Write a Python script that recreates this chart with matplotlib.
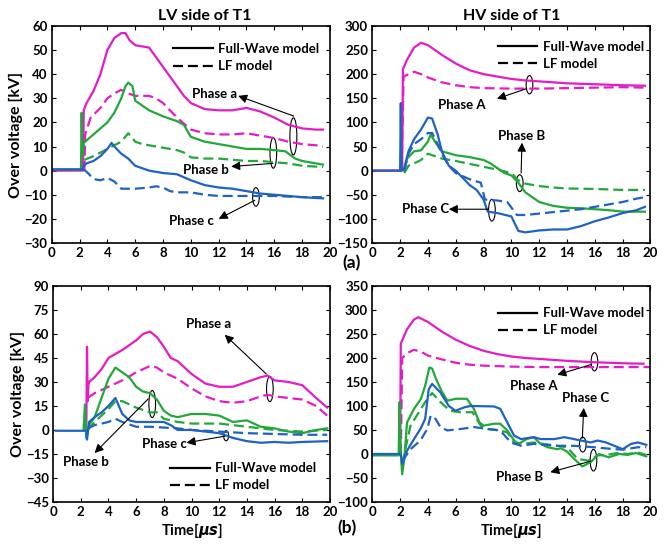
import matplotlib
matplotlib.use('Agg')
import matplotlib.pyplot as plt
from matplotlib.lines import Line2D
from matplotlib.patches import Ellipse

plt.rcParams['font.family'] = ['Lato', 'DejaVu Sans']
plt.rcParams['font.weight'] = 'bold'

MAG = '#e31cc6'
GRN = '#22a83a'
BLU = '#1f62c0'

# ---------- (a) LV side of T1 ----------
lva_t_fw_a = [0, 2.25, 2.3, 2.5, 3, 3.5, 4, 4.5, 5, 5.3, 5.6, 6, 6.5, 7, 7.5, 8, 8.5, 9, 9.5, 10, 11, 12, 13, 14, 15, 16, 17, 18, 19, 19.5]
lva_fw_a = [0, 0, 25, 28, 33, 40, 50, 55, 57, 57, 54, 52, 51.5, 51, 47, 43, 39, 35, 31, 28, 25.5, 25, 25, 26, 24.5, 22, 19, 17.5, 17, 17]
lva_t_lf_a = [2.35, 2.4, 2.8, 3.5, 4, 4.5, 5, 5.5, 6, 7, 7.5, 8, 8.5, 9, 10, 11, 12, 13, 14, 15, 16, 17, 18, 19, 19.5]
lva_lf_a = [0, 15, 22, 26, 30, 32, 33.5, 32, 31, 31, 30, 28, 25, 22, 17, 15.5, 15, 15, 15.5, 14.5, 13.5, 12, 11, 10.5, 10]
lva_t_fw_b = [0, 2.1, 2.15, 2.2, 2.25, 2.3, 3, 4, 4.5, 5, 5.3, 5.5, 5.8, 6, 7, 8, 9, 9.5, 10, 11, 12, 13, 14, 15, 16, 16.8, 17.5, 18, 19, 19.5]
lva_fw_b = [0.5, 0.5, 24, 6, 8, 11.5, 15, 20, 24, 30, 35, 36.5, 35, 29, 25, 22.5, 20.5, 19, 14, 12, 11, 10, 9, 9, 8.5, 8, 5, 4, 3, 2.5]
lva_t_lf_b = [2.35, 3, 4, 5, 5.5, 6, 6.5, 7, 8, 9, 9.5, 10, 11, 12, 13, 14, 15, 16, 17, 18, 19.5]
lva_lf_b = [4.5, 6, 9, 12, 15.5, 12, 11, 10.5, 9.5, 8.5, 7.5, 5.5, 5, 5, 4.5, 4, 4, 3.5, 3, 2, 1.5]
lva_t_fw_c = [0, 2.25, 2.3, 2.5, 3, 3.5, 4, 4.3, 4.5, 5, 5.5, 6, 7, 8, 9, 10, 11, 12, 13, 14, 15, 16, 17, 18, 19.5]
lva_fw_c = [0.5, 0.5, 2, 3, 4, 6, 9, 11.5, 10, 7, 5, 2, 0, -1, -1.5, -4, -6, -7, -7.5, -8.5, -9.5, -10, -10.5, -11, -11.5]
lva_t_lf_c = [2.3, 2.6, 3, 3.5, 4, 4.5, 5, 6, 7, 7.5, 8, 8.5, 9, 10, 11, 12, 14, 16, 18, 19.5]
lva_lf_c = [0.5, -1, -3.5, -4, -3, -4.5, -7.5, -7.5, -7, -6.5, -7, -8.5, -9, -9, -10, -10.5, -10.5, -10.5, -11, -11]

# ---------- (a) HV side of T1 ----------
hva_t_fw_a = [0, 2.15, 2.2, 2.5, 3, 3.5, 4, 5, 6, 7, 8, 9, 10, 11, 12, 14, 16, 18, 19.6]
hva_fw_a = [0, 0, 210, 230, 255, 265, 260, 240, 222, 208, 200, 195, 190, 187, 185, 181, 179, 177, 176]
hva_t_lf_a = [2.1, 2.25, 3, 3.5, 4, 5, 6, 7, 8, 10, 12, 14, 16, 18, 19.6]
hva_lf_a = [0, 195, 205, 200, 193, 183, 177, 173, 171, 170, 170, 171, 172, 173, 172]
hva_t_fw_b = [2.3, 2.5, 3, 3.5, 4, 4.2, 4.5, 5, 6, 7, 8, 8.5, 9, 9.5, 10, 10.5, 11, 12, 13, 14, 15, 16, 17, 18, 19.6]
hva_fw_b = [0, 25, 40, 42, 60, 75, 60, 40, 32, 28, 22, 15, 5, -5, -10, -25, -45, -65, -73, -77, -78, -80, -82, -85, -85]
hva_t_lf_b = [2.3, 2.6, 3, 3.5, 4, 4.5, 5, 6, 7, 8, 9, 10, 10.5, 11, 12, 13, 14, 16, 18, 19.6]
hva_lf_b = [-5, 10, 15, 22, 35, 30, 25, 20, 14, 8, 2, -5, -20, -27, -32, -35, -37, -38, -40, -40]
hva_t_fw_c = [0, 2.0, 2.05, 2.1, 2.3, 2.6, 3, 3.5, 4, 4.3, 4.7, 5, 5.5, 6, 7, 7.5, 8, 8.3, 9, 10, 10.5, 11, 12, 13, 14, 15, 16, 17, 18, 19, 19.6]
hva_fw_c = [0, 0, 140, 0, 5, 40, 65, 85, 110, 108, 75, 40, 10, 0, -30, -40, -60, -85, -88, -95, -125, -128, -124, -122, -122, -115, -105, -97, -88, -82, -75]
hva_t_lf_c = [2.3, 2.6, 3, 3.5, 4, 4.3, 4.7, 5, 5.5, 6, 7, 7.8, 8.1, 9, 9.7, 10.4, 11, 12, 13, 14, 15, 16, 17, 18, 19, 19.6]
hva_lf_c = [0, 35, 55, 65, 78, 78, 55, 35, 10, -5, -18, -25, -60, -62, -65, -92, -92, -89, -86, -83, -80, -75, -70, -65, -58, -55]

# ---------- (b) LV side ----------
lvb_t_fw_a = [2.4, 2.45, 2.5, 2.55, 2.6, 3, 3.5, 4, 5, 6, 6.5, 7, 7.5, 8, 8.5, 9, 10, 11, 12, 13, 14, 15, 15.5, 16, 17, 18, 19, 19.8]
lvb_fw_a = [0, 52, 18, 28, 30, 33, 38, 45, 50, 56, 60, 61.5, 58, 52, 45, 43, 35, 29, 27, 27, 30, 33, 34, 31, 30, 28, 20, 14]
lvb_t_lf_a = [2.5, 3, 4, 5, 6, 7, 7.5, 8, 9, 10, 11, 12, 13, 14, 15, 15.5, 16, 17, 18, 19, 19.8]
lvb_lf_a = [20, 23, 27, 31, 36, 40, 39, 36, 32, 26, 21, 18, 17, 18, 21, 22, 21, 20, 19, 15, 9]
lvb_t_fw_b = [2.2, 2.3, 2.4, 2.6, 3, 3.5, 4, 4.5, 5, 5.5, 6, 6.5, 7, 7.5, 8, 8.5, 9, 10, 11, 12, 13, 14, 15, 16, 17, 18, 19, 19.8]
lvb_fw_b = [0, 16, -5, 3, 8, 20, 32, 39, 36, 33, 27, 24, 23, 19, 12, 9, 8, 10, 10, 9, 5, 6, 2, 1, -1, -2, 0, 1]
lvb_t_lf_b = [2.5, 3, 4, 4.5, 5, 6, 7, 7.5, 8, 9, 10, 12, 13, 14, 16, 18, 19.8]
lvb_lf_b = [0, 5, 13, 18, 18, 14, 11, 11, 7, 5, 4, 4, 3, 2, 0, -1, 0]
lvb_t_fw_c = [0.2, 2.4, 2.45, 2.6, 3, 3.5, 4, 4.5, 5, 5.5, 6, 7, 8, 8.5, 9, 10, 11, 12, 13, 14, 15, 16, 17, 18, 19.8]
lvb_fw_c = [-0.5, -0.5, -6, 5, 8, 11, 15, 20, 10, 6, 5, 5, 5, 3, 0, 0, -1, -2, -5, -7, -8, -7.5, -8, -7.5, -7]
lvb_t_lf_c = [2.5, 3, 4, 4.5, 5, 6, 7, 8, 9, 10, 12, 14, 16, 18, 19.8]
lvb_lf_c = [1, 3, 5, 7, 5, 2, 2, 1.5, 1, 0, -1, -2, -2.5, -3, -3]

# ---------- (b) HV side ----------
hvb_t_fw_a = [2.0, 2.05, 2.5, 3, 3.3, 4, 5, 6, 7, 8, 9, 10, 11, 12, 14, 16, 18, 19.5]
hvb_fw_a = [0, 230, 260, 280, 285, 275, 255, 238, 225, 215, 208, 203, 200, 198, 194, 191, 189, 188]
hvb_t_lf_a = [2.05, 2.15, 2.5, 3, 3.5, 4, 5, 6, 7, 8, 10, 12, 14, 16, 18, 20]
hvb_lf_a = [0, 200, 210, 217, 213, 205, 197, 190, 186, 184, 182, 181, 181, 181, 181, 181]
hvb_t_fw_b = [0, 1.9, 1.95, 2.05, 2.15, 2.3, 2.5, 3, 3.5, 3.8, 4.1, 4.3, 4.6, 5, 5.4, 6, 6.8, 7.3, 7.7, 8, 8.75, 9.2, 9.7, 10.2, 10.5, 11.1, 11.6, 12.1, 12.6, 13.3, 13.55, 14, 14.5, 15.1, 15.7, 16.3, 17, 17.75, 18.35, 18.95, 19.7]
hvb_fw_b = [-3, -3, 108, 0, -42, -10, 66, 94, 115, 142, 180, 178, 155, 130, 111, 115, 115, 94, 66, 59, 63, 63, 49, 28, 21, 31, 35, 21, 14, 10, 12, 5, -10, -26, -17, 0, -7, 0, -2, 2, -5]
hvb_t_lf_b = [2.15, 2.3, 2.75, 3.35, 3.8, 4.3, 4.9, 5.6, 6.35, 7.2, 7.8, 8.3, 9.2, 9.7, 10.2, 10.9, 11.6, 12.3, 13.3, 14, 14.75, 15.5, 16.2, 16.9, 17.6, 18.35, 19.1, 19.7]
hvb_lf_b = [-20, 0, 59, 87, 108, 127, 108, 90, 87, 87, 59, 52, 49, 45, 24, 21, 24, 21, 17, 14, -10, -14, -3, -2, 2, 0, 3, -2]
hvb_t_fw_c = [0, 2.05, 2.15, 2.5, 3, 3.46, 3.8, 4.06, 4.3, 4.9, 5.5, 5.98, 6.6, 7.06, 8.75, 9.2, 9.7, 10.2, 10.7, 11.6, 12.1, 13.1, 13.8, 14.5, 15, 15.7, 16.2, 16.8, 17.4, 18, 18.6, 19.1, 19.7]
hvb_fw_c = [0, 0, -21, 7, 31, 52, 73, 135, 146, 128, 100, 90, 97, 100, 99, 94, 66, 38, 31, 35, 31, 31, 35, 31, 28, 24, 28, 24, 17, 10, 21, 24, 19]
hvb_t_lf_c = [2.15, 2.75, 3.46, 3.95, 4.2, 4.55, 4.9, 5.4, 6.35, 7.3, 8.3, 9.2, 9.95, 10.7, 11.6, 13.1, 14.5, 15.95, 17.4, 18, 19.1, 19.7]
hvb_lf_c = [-15, 10, 28, 52, 80, 73, 56, 49, 52, 56, 52, 49, 24, 17, 21, 17, 17, 14, 10, 9, 14, 14]

x_ticks = [0, 2, 4, 6, 8, 10, 12, 14, 16, 18, 20]
lva_yticks = [-30, -20, -10, 0, 10, 20, 30, 40, 50, 60]
hva_yticks = [-150, -100, -50, 0, 50, 100, 150, 200, 250, 300]
lvb_yticks = [-45, -30, -15, 0, 15, 30, 45, 60, 75, 90]
hvb_yticks = [-100, -50, 0, 50, 100, 150, 200, 250, 300, 350]

DASH = (4.5, 2.2)


def draw(ax, curves, yticks):
    # curves: list of (t, v, colour, dashed)
    for t, v, c, dashed in curves:
        if dashed:
            ax.plot(t, v, color=c, lw=1.6, dashes=DASH)
        else:
            ax.plot(t, v, color=c, lw=1.6)
    ax.set_xlim(0, 20)
    ax.set_ylim(yticks[0], yticks[-1])
    ax.set_xticks(x_ticks)
    ax.set_yticks(yticks)
    ax.tick_params(direction='in', top=True, right=True, labelsize=9.5, length=3, width=0.8, pad=3)
    for lab in ax.get_xticklabels() + ax.get_yticklabels():
        lab.set_fontweight('bold')
    for s in ax.spines.values():
        s.set_linewidth(1.2)


def legend(ax, loc, anchor):
    h = [Line2D([], [], color='k', lw=1.6), Line2D([], [], color='k', lw=1.6, dashes=DASH)]
    ax.legend(h, ['Full-Wave model', 'LF model'], loc=loc, bbox_to_anchor=anchor, frameon=False,
              prop={'size': 9.5, 'weight': 'bold'}, handlelength=3.0, handletextpad=0.4,
              labelspacing=0.38, borderaxespad=0)


def note(ax, text, txy, head, tail, ell, ew, eh):
    ax.text(txy[0], txy[1], text, fontsize=9.5, fontweight='bold', ha='center', va='center')
    ax.annotate('', xy=head, xytext=tail,
                arrowprops=dict(arrowstyle='-|>', color='k', lw=0.8, mutation_scale=13, shrinkA=0, shrinkB=0))
    ax.add_patch(Ellipse(ell, ew, eh, fill=False, edgecolor='k', lw=0.8))


fig = plt.figure(figsize=(6.72, 5.51), dpi=100)
ax1 = fig.add_axes([0.077, 0.559, 0.414, 0.394])
ax2 = fig.add_axes([0.554, 0.559, 0.414, 0.394])
ax3 = fig.add_axes([0.079, 0.089, 0.412, 0.392])
ax4 = fig.add_axes([0.554, 0.089, 0.414, 0.392])

draw(ax1, [(lva_t_fw_a, lva_fw_a, MAG, False), (lva_t_lf_a, lva_lf_a, MAG, True),
           (lva_t_fw_b, lva_fw_b, GRN, False), (lva_t_lf_b, lva_lf_b, GRN, True),
           (lva_t_fw_c, lva_fw_c, BLU, False), (lva_t_lf_c, lva_lf_c, BLU, True)], lva_yticks)
draw(ax2, [(hva_t_fw_a, hva_fw_a, MAG, False), (hva_t_lf_a, hva_lf_a, MAG, True),
           (hva_t_fw_b, hva_fw_b, GRN, False), (hva_t_lf_b, hva_lf_b, GRN, True),
           (hva_t_fw_c, hva_fw_c, BLU, False), (hva_t_lf_c, hva_lf_c, BLU, True)], hva_yticks)
draw(ax3, [(lvb_t_fw_a, lvb_fw_a, MAG, False), (lvb_t_lf_a, lvb_lf_a, MAG, True),
           (lvb_t_fw_b, lvb_fw_b, GRN, False), (lvb_t_lf_b, lvb_lf_b, GRN, True),
           (lvb_t_fw_c, lvb_fw_c, BLU, False), (lvb_t_lf_c, lvb_lf_c, BLU, True)], lvb_yticks)
draw(ax4, [(hvb_t_fw_a, hvb_fw_a, MAG, False), (hvb_t_lf_a, hvb_lf_a, MAG, True),
           (hvb_t_fw_b, hvb_fw_b, GRN, False), (hvb_t_lf_b, hvb_lf_b, GRN, True),
           (hvb_t_fw_c, hvb_fw_c, BLU, False), (hvb_t_lf_c, hvb_lf_c, BLU, True)], hvb_yticks)

ax1.set_title('LV side of T1', fontsize=11.5, fontweight='bold', pad=4, x=0.55)
ax2.set_title('HV side of T1', fontsize=11.5, fontweight='bold', pad=4)
ax1.set_ylabel('Over voltage [kV]', fontsize=11.5, fontweight='bold', labelpad=1)
ax3.set_ylabel('Over voltage [kV]', fontsize=11.5, fontweight='bold', labelpad=1)
ax3.set_xlabel(r'Time[$\mu s$]', fontsize=10.5, fontweight='bold', labelpad=2)
ax4.set_xlabel(r'Time[$\mu s$]', fontsize=10.5, fontweight='bold', labelpad=2)

legend(ax1, 'upper right', (0.98, 0.945))
legend(ax2, 'upper right', (0.995, 0.955))
legend(ax3, 'lower right', (0.97, 0.025))
legend(ax4, 'upper right', (0.995, 0.925))

note(ax1, 'Phase a', (11.7, 31.7), (13.4, 31), (17.4, 22.6), (17.37, 14.2), 0.5, 15.4)
note(ax1, 'Phase b', (11.1, 0.3), (12.9, 1.7), (15.9, 3), (15.93, 7.3), 0.48, 12.6)
note(ax1, 'Phase c', (10.06, -20.7), (12.0, -20), (14.6, -12.3), (14.68, -10.9), 0.48, 7.7)

note(ax2, 'Phase A', (6.43, 135), (8.96, 149), (11.1, 170), (11.3, 178), 0.48, 38)
note(ax2, 'Phase B', (10.76, 72), (10.76, 58), (10.7, -5), (10.6, -26), 0.48, 35)
note(ax2, 'Phase C', (3.8, -80), (5.5, -80), (8.35, -80), (8.6, -82), 0.48, 45)

note(ax3, 'Phase a', (11.2, 66), (12.4, 59.5), (15.4, 35), (15.66, 25.6), 0.48, 15.8)
note(ax3, 'Phase b', (2.36, -20.3), (3.0, -14.4), (6.87, 19.4), (7.16, 16.2), 0.48, 16.9)
note(ax3, 'Phase c', (8.07, -8.6), (9.64, -8), (12.4, -3.9), (12.5, -3.6), 0.36, 6.3)

note(ax4, 'Phase A', (11.6, 141), (13.3, 165), (15.7, 186), (15.97, 192), 0.48, 38)
note(ax4, 'Phase C', (15.3, 117), (15.2, 96), (15.1, 33), (15.13, 19.5), 0.48, 31)
note(ax4, 'Phase B', (10.6, -47), (12.8, -38), (15.7, -15), (15.9, -13), 0.48, 45)

fig.text(352 / 672, 1 - 263 / 551, '(a)', fontsize=12.5, fontweight='bold', ha='center', va='center')
fig.text(347 / 672, 1 - 528 / 551, '(b)', fontsize=12.5, fontweight='bold', ha='center', va='center')

fig.savefig('out.png', dpi=100)
